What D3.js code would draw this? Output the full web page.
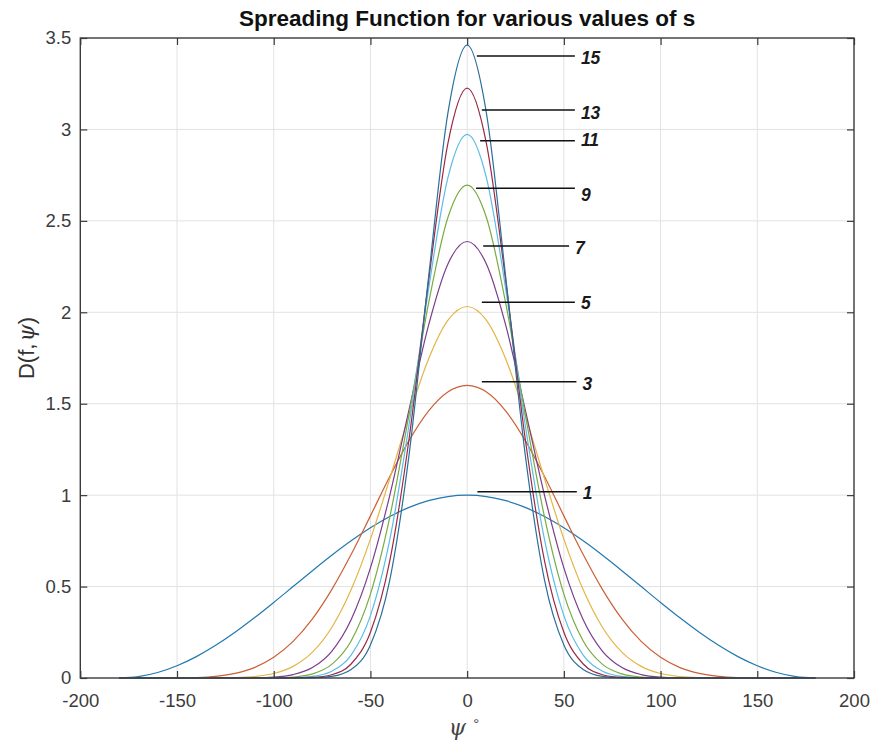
<!DOCTYPE html>
<html>
<head>
<meta charset="utf-8">
<script src="https://cdn.jsdelivr.net/npm/d3@7"></script>
<style>
  html, body { margin: 0; padding: 0; background: #fff; }
  svg { display: block; }
  text { font-family: "Liberation Sans", Arial, sans-serif; }
</style>
</head>
<body>
<div id="chart"></div>
<script>
// psi in degrees, sampled every 10
const psi = [-180, -170, -160, -150, -140, -130, -120, -110, -100, -90, -80, -70, -60, -50, -40, -30, -20, -10,
  0, 10, 20, 30, 40, 50, 60, 70, 80, 90, 100, 110, 120, 130, 140, 150, 160, 170, 180];

// D(f,psi) for each s
const d1 = [0, 0.0076, 0.0302, 0.0670, 0.1170, 0.1786, 0.25, 0.3290, 0.4132, 0.5, 0.5868, 0.6710, 0.75, 0.8214, 0.8830, 0.9330, 0.9698, 0.9924,
  1.0, 0.9924, 0.9698, 0.9330, 0.8830, 0.8214, 0.75, 0.6710, 0.5868, 0.5, 0.4132, 0.3290, 0.25, 0.1786, 0.1170, 0.0670, 0.0302, 0.0076, 0];
const d3s = [0, 0, 0, 0.0005, 0.0026, 0.0091, 0.025, 0.0570, 0.1129, 0.2, 0.3233, 0.4834, 0.675, 0.8867, 1.1016, 1.2995, 1.4596, 1.5638,
  1.6, 1.5638, 1.4596, 1.2995, 1.1016, 0.8867, 0.675, 0.4834, 0.3233, 0.2, 0.1129, 0.0570, 0.025, 0.0091, 0.0026, 0.0005, 0, 0, 0];
const d5 = [0, 0, 0, 0, 0.0001, 0.0004, 0.0020, 0.0078, 0.0245, 0.0635, 0.1414, 0.2764, 0.4821, 0.7597, 1.0907, 1.4365, 1.7434, 1.9557,
  2.0317, 1.9557, 1.7434, 1.4365, 1.0907, 0.7597, 0.4821, 0.2764, 0.1414, 0.0635, 0.0245, 0.0078, 0.0020, 0.0004, 0.0001, 0, 0, 0, 0];
const d7 = [0, 0, 0, 0, 0, 0, 0.0001, 0.0010, 0.0049, 0.0187, 0.0572, 0.1462, 0.3186, 0.6021, 0.9992, 1.4692, 1.9266, 2.2629,
  2.387, 2.2629, 1.9266, 1.4692, 0.9992, 0.6021, 0.3186, 0.1462, 0.0572, 0.0187, 0.0049, 0.0010, 0.0001, 0, 0, 0, 0, 0, 0];
const d9 = [0, 0, 0, 0, 0, 0, 0, 0.0001, 0.0009, 0.0053, 0.0222, 0.0744, 0.2024, 0.4588, 0.8799, 1.4443, 2.0464, 2.5167,
  2.6956, 2.5167, 2.0464, 1.4443, 0.8799, 0.4588, 0.2024, 0.0744, 0.0222, 0.0053, 0.0009, 0.0001, 0, 0, 0, 0, 0, 0, 0];
const d11 = [0, 0, 0, 0, 0, 0, 0, 0, 0.0002, 0.0015, 0.0085, 0.0369, 0.1256, 0.3414, 0.7565, 1.3865, 2.1228, 2.7334,
  2.9727, 2.7334, 2.1228, 1.3865, 0.7565, 0.3414, 0.1256, 0.0369, 0.0085, 0.0015, 0.0002, 0, 0, 0, 0, 0, 0, 0, 0];
const d13 = [0, 0, 0, 0, 0, 0, 0, 0, 0, 0.0004, 0.0032, 0.0180, 0.0766, 0.25, 0.6402, 1.3098, 2.1669, 2.9214,
  3.226, 2.9214, 2.1669, 1.3098, 0.6402, 0.25, 0.0766, 0.0180, 0.0032, 0.0004, 0, 0, 0, 0, 0, 0, 0, 0, 0];
const d15 = [0, 0, 0, 0, 0, 0, 0, 0, 0, 0.0001, 0.0012, 0.0087, 0.0463, 0.1809, 0.5355, 1.2232, 2.1866, 3.0868,
  3.461, 3.0868, 2.1866, 1.2232, 0.5355, 0.1809, 0.0463, 0.0087, 0.0012, 0.0001, 0, 0, 0, 0, 0, 0, 0, 0, 0];

const sValues = [1, 3, 5, 7, 9, 11, 13, 15];
const seriesValues = [d1, d3s, d5, d7, d9, d11, d13, d15];
// MATLAB default order, a bit faded like the source image
const seriesColors = ['#2279b0', '#cc5f35', '#e3b545', '#7b3d8c', '#7aab40', '#5bbde6', '#9a2a43', '#2a6f9c'];

const xTicks = [-200, -150, -100, -50, 0, 50, 100, 150, 200];
const yTicks = [0, 0.5, 1, 1.5, 2, 2.5, 3, 3.5];

// annotation lines (data units) and their labels
const annoLabels = ['15', '13', '11', '9', '7', '5', '3', '1'];
const annoY = [3.401, 3.106, 2.938, 2.678, 2.362, 2.055, 1.620, 1.019];
const annoX0 = [5.0, 7.6, 6.7, 4.6, 8.3, 7.6, 7.6, 5.3];
const annoX1 = [55.7, 55.7, 55.7, 55.7, 52.7, 55.7, 56.5, 56.7];
const annoLabelY = [3.391, 3.091, 2.945, 2.644, 2.352, 2.052, 1.609, 1.012];

const W = 873, H = 745;
const plotLeft = 80.3, plotRight = 854, plotTop = 38, plotBottom = 678;

const svg = d3.select('#chart').append('svg')
    .attr('width', W)
    .attr('height', H);

const x = d3.scaleLinear().domain([-200, 200]).range([plotLeft, plotRight]);
const y = d3.scaleLinear().domain([0, 3.5]).range([plotBottom, plotTop]);

// grid
const grid = svg.append('g').attr('class', 'grid');
grid.selectAll('line.gx')
    .data(xTicks.slice(1, -1))
    .join('line')
    .attr('class', 'gx')
    .attr('x1', d => x(d)).attr('x2', d => x(d))
    .attr('y1', plotTop).attr('y2', plotBottom)
    .attr('stroke', '#e2e2e2').attr('stroke-width', 1);
grid.selectAll('line.gy')
    .data(yTicks.slice(1, -1))
    .join('line')
    .attr('class', 'gy')
    .attr('x1', plotLeft).attr('x2', plotRight)
    .attr('y1', d => y(d)).attr('y2', d => y(d))
    .attr('stroke', '#e2e2e2').attr('stroke-width', 1);

// curves
const line = d3.line()
    .x((d, i) => x(psi[i]))
    .y(d => y(d))
    .curve(d3.curveMonotoneX);

svg.append('g').attr('class', 'curves')
    .selectAll('path')
    .data(seriesValues)
    .join('path')
    .attr('d', d => line(d))
    .attr('fill', 'none')
    .attr('stroke', (d, i) => seriesColors[i])
    .attr('stroke-width', 1.2);

// axes with inward ticks
const tickLen = 7;
const axisColor = '#3a3a3a';

function styleAxis(g, showText) {
    g.select('.domain').remove();
    g.selectAll('.tick line').attr('stroke', axisColor).attr('stroke-width', 1.2);
    if (!showText) g.selectAll('.tick text').remove();
    g.selectAll('.tick text')
        .attr('fill', '#3c3c3c')
        .style('font-size', '18.5px')
        .style('font-family', '"Liberation Sans", Arial, sans-serif');
}

svg.append('g')
    .attr('transform', `translate(0,${plotBottom})`)
    .call(d3.axisBottom(x).tickValues(xTicks).tickSize(-tickLen).tickPadding(16).tickFormat(d => String(d)))
    .call(g => styleAxis(g, true));
svg.append('g')
    .attr('transform', `translate(0,${plotTop})`)
    .call(d3.axisTop(x).tickValues(xTicks).tickSize(-tickLen))
    .call(g => styleAxis(g, false));
svg.append('g')
    .attr('transform', `translate(${plotLeft},0)`)
    .call(d3.axisLeft(y).tickValues(yTicks).tickSize(-tickLen).tickPadding(9).tickFormat(d => String(d)))
    .call(g => styleAxis(g, true));
svg.append('g')
    .attr('transform', `translate(${plotRight},0)`)
    .call(d3.axisRight(y).tickValues(yTicks).tickSize(-tickLen))
    .call(g => styleAxis(g, false));

// box
svg.append('rect')
    .attr('x', plotLeft).attr('y', plotTop)
    .attr('width', plotRight - plotLeft).attr('height', plotBottom - plotTop)
    .attr('fill', 'none')
    .attr('stroke', axisColor)
    .attr('stroke-width', 1.4);

// annotations
const anno = svg.append('g').attr('class', 'annotations');
anno.selectAll('line')
    .data(annoLabels)
    .join('line')
    .attr('x1', (d, i) => x(annoX0[i]))
    .attr('x2', (d, i) => x(annoX1[i]))
    .attr('y1', (d, i) => y(annoY[i]))
    .attr('y2', (d, i) => y(annoY[i]))
    .attr('stroke', '#111')
    .attr('stroke-width', 1.5);
anno.selectAll('text')
    .data(annoLabels)
    .join('text')
    .attr('x', (d, i) => x(annoX1[i]) + 6)
    .attr('y', (d, i) => y(annoLabelY[i]))
    .attr('dy', '0.36em')
    .attr('fill', '#1a1a1a')
    .style('font-size', '17.5px')
    .style('font-weight', 'bold')
    .style('font-style', 'italic')
    .text(d => d);

// title
svg.append('text')
    .attr('x', (plotLeft + plotRight) / 2)
    .attr('y', 26)
    .attr('text-anchor', 'middle')
    .attr('fill', '#111')
    .style('font-size', '22.5px')
    .style('font-weight', 'bold')
    .text('Spreading Function for various values of s');

// y label
const yl = svg.append('text')
    .attr('transform', `translate(34,348) rotate(-90)`)
    .attr('text-anchor', 'middle')
    .attr('fill', '#333')
    .style('font-size', '22px');
yl.append('tspan').text('D(f,');
yl.append('tspan')
    .attr('dx', 2)
    .style('font-family', '"DejaVu Serif", "Liberation Serif", serif')
    .style('font-style', 'italic')
    .text('ψ');
yl.append('tspan').text(')');

// x label
const xl = svg.append('text')
    .attr('x', 464)
    .attr('y', 735)
    .attr('text-anchor', 'middle')
    .attr('fill', '#444')
    .style('font-size', '22px');
xl.append('tspan')
    .style('font-family', '"DejaVu Serif", "Liberation Serif", serif')
    .style('font-style', 'italic')
    .text('ψ');
xl.append('tspan').attr('dx', 7).attr('dy', -6).style('font-size', '15px').text('°');
</script>
</body>
</html>
